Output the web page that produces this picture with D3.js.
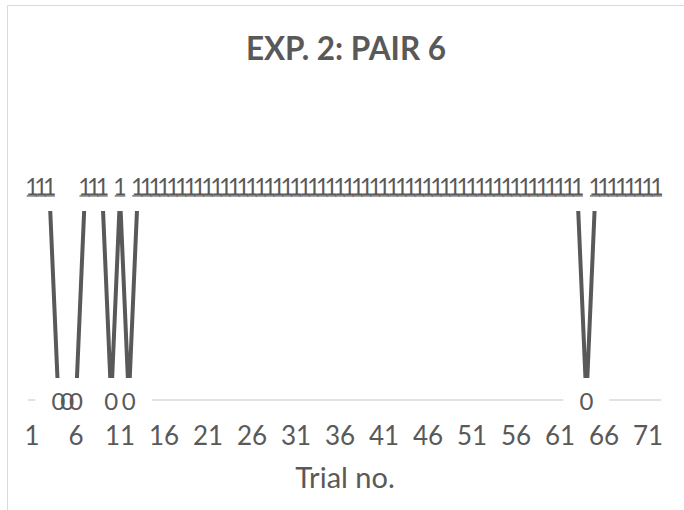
<!DOCTYPE html>
<html>
<head>
<meta charset="utf-8">
<script src="https://cdn.jsdelivr.net/npm/d3@7"></script>
<style>
  html, body { margin: 0; padding: 0; background: #fff; }
  svg { display: block; }
</style>
</head>
<body>
<svg id="chart" width="684" height="510"></svg>
<script>
// ---- data ----
const trials = [1,2,3,4,5,6,7,8,9,10,11,12,13,14,15,16,17,18,19,20,21,22,23,24,25,26,27,28,29,30,31,32,33,34,35,36,
                37,38,39,40,41,42,43,44,45,46,47,48,49,50,51,52,53,54,55,56,57,58,59,60,61,62,63,64,65,66,67,68,69,70,71,72];
const values = [1,1,1,0,0,0,1,1,1,0,1,0,
                1,1,1,1,1,1,1,1,1,1,1,1,1,1,1,1,1,1,1,1,1,1,1,1,1,1,1,1,1,1,1,1,1,1,1,1,1,1,1,1,1,1,1,1,1,1,1,1,1,1,1,
                0,1,1,1,1,1,1,1,1];
const tickLabels = ["1","6","11","16","21","26","31","36","41","46","51","56","61","66","71"];
const titleText = "EXP. 2: PAIR 6";
const xTitle = "Trial no.";

// ---- layout ----
const svg = d3.select("#chart");
const textColor = "#595959";
const font = "Lato, 'Open Sans', sans-serif";

const x = d3.scaleBand().domain(trials).range([27.6, 661.2]).padding(0);
const cx = d => x(d) + x.bandwidth() / 2;
const y = d3.scaleLinear().domain([0, 1]).range([400, 196]);

const data = trials.map((t, i) => ({ t, v: values[i] }));

// chart border (left & top)
svg.append("path")
  .attr("d", "M7.5,510 L7.5,5.5 L684,5.5")
  .attr("fill", "none").attr("stroke", "#d9d9d9").attr("stroke-width", 1);

// title
svg.append("text")
  .attr("x", 346).attr("y", 59.5)
  .attr("text-anchor", "middle")
  .attr("font-family", font).attr("font-weight", "bold").attr("font-size", 31.5)
  .attr("fill", textColor)
  .text(titleText);

// gridline at 0
svg.append("line")
  .attr("x1", x.range()[0]).attr("x2", x.range()[1])
  .attr("y1", y(0)).attr("y2", y(0))
  .attr("stroke", "#d9d9d9").attr("stroke-width", 1.5);

// clip for line
svg.append("defs").append("clipPath").attr("id", "lineClip")
  .append("rect")
  .attr("x", 0).attr("width", 684)
  .attr("y", y(1) + 15).attr("height", (y(0) - 22) - (y(1) + 15));

// line
const line = d3.line().x(d => cx(d.t)).y(d => y(d.v));
svg.append("path")
  .datum(data)
  .attr("d", line)
  .attr("fill", "none")
  .attr("stroke", "#595959")
  .attr("stroke-width", 4)
  .attr("clip-path", "url(#lineClip)");

const zeros = data.filter(d => d.v === 0);
const ones = data.filter(d => d.v === 1);

// white boxes behind 0 labels (hide gridline)
svg.append("g").selectAll("rect").data(zeros).join("rect")
  .attr("x", d => cx(d.t) - 23).attr("width", 46)
  .attr("y", y(0) - 14).attr("height", 30)
  .attr("fill", "#fff");

// 0 labels
svg.append("g").selectAll("text").data(zeros).join("text")
  .attr("x", d => cx(d.t)).attr("y", y(0) + 10)
  .attr("text-anchor", "middle")
  .attr("font-family", font).attr("font-size", 24)
  .attr("fill", textColor)
  .text(d => d.v);

// 1 labels
svg.append("g").selectAll("text").data(ones).join("text")
  .attr("x", d => cx(d.t)).attr("y", y(1) - 1.5)
  .attr("text-anchor", "middle")
  .attr("font-family", font).attr("font-size", 23)
  .attr("fill", textColor)
  .text(d => d.v);

// underline of 1 labels
svg.append("g").selectAll("rect").data(ones).join("rect")
  .attr("x", d => cx(d.t) - 5.3).attr("width", 10.6)
  .attr("y", y(1) - 0.8).attr("height", 1.4)
  .attr("fill", "#6a6a6a");

// x axis tick labels
svg.append("g").selectAll("text").data(tickLabels).join("text")
  .attr("x", d => cx(+d)).attr("y", 445)
  .attr("text-anchor", "middle")
  .attr("font-family", font).attr("font-size", 26)
  .attr("fill", textColor)
  .text(d => d);

// axis title
svg.append("text")
  .attr("x", 345).attr("y", 488)
  .attr("text-anchor", "middle")
  .attr("font-family", font).attr("font-size", 29)
  .attr("fill", textColor)
  .text(xTitle);
</script>
</body>
</html>
